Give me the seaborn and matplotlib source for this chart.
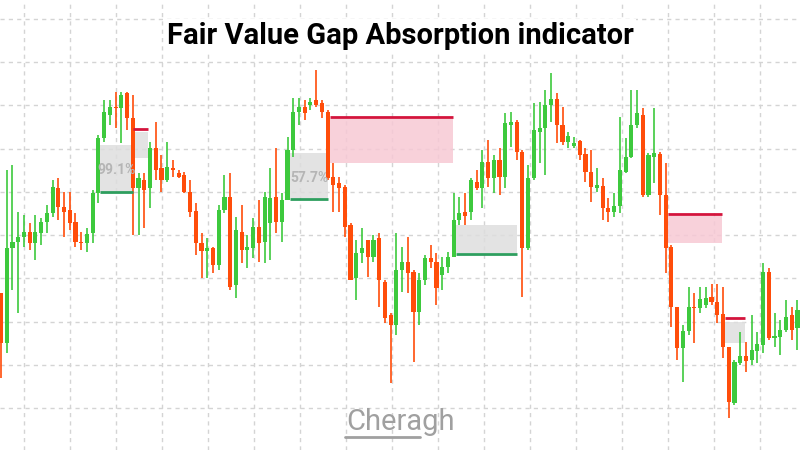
import numpy as np
import matplotlib
matplotlib.use("Agg")
import matplotlib.pyplot as plt
import seaborn as sns
from matplotlib.patches import Rectangle

# candle values on a screen-like price scale (smaller = higher)
opens = [293,343,248,242,237,232,243,233,222,213,188,207,210,222,242,243,233,193,138,115,
         107,108,93,118,188,180,188,148,168,180,168,173,175,192,211,243,251,248,265,210,
         197,285,232,250,248,227,242,223,197,222,200,150,112,107,105,100,103,112,177,183,
         187,225,278,253,240,257,238,282,315,325,270,262,272,312,280,258,262,275,267,257,
         220,212,212,182,188,162,178,160,177,125,122,152,248,178,132,128,105,99,125,142,
         146,141,154,172,188,186,208,212,206,172,157,125,115,195,157,154,195,247,307,348,
         331,307,308,305,297,302,314,347,403,363,356,360,351,345,272,338,337,330,315,328]
closes = [343,248,242,237,232,243,232,222,213,187,207,212,223,242,243,234,193,138,112,107,
          108,95,118,188,178,190,148,170,180,167,170,177,192,212,243,251,248,265,210,197,
          287,230,250,247,227,243,197,198,222,200,150,112,107,113,102,105,112,178,185,188,
          227,280,253,248,257,240,280,318,325,270,262,273,312,280,258,262,288,267,257,220,
          213,216,180,188,162,178,160,177,123,122,152,248,178,130,128,105,99,125,142,136,
          143,155,172,187,185,208,212,206,170,157,125,113,195,155,153,195,248,307,348,331,
          307,308,299,298,302,315,347,402,362,356,361,350,344,272,338,336,330,317,330,310]
highs = [293,170,165,212,215,223,215,218,205,180,178,192,192,213,232,228,190,135,100,100,
         92,92,92,95,173,173,142,122,155,142,160,170,172,180,203,233,238,247,205,175,
         173,217,205,235,218,200,192,168,148,193,137,98,98,100,98,70,100,110,163,177,
         185,223,240,228,240,235,233,280,313,233,247,237,270,273,255,245,253,257,252,193,
         197,193,178,170,150,140,155,148,113,112,120,150,165,103,102,90,73,93,107,132,
         137,140,148,150,168,178,198,193,117,138,90,90,108,153,108,152,163,245,307,325,
         287,293,287,287,284,284,287,347,360,332,342,315,332,263,268,313,320,300,307,300]
lows = [378,353,290,313,247,250,260,245,233,217,220,237,230,247,250,252,243,203,142,125,
        128,143,130,235,235,228,208,180,192,182,177,178,193,217,255,278,278,273,270,213,
        290,298,263,268,258,262,263,260,233,242,200,157,125,120,110,107,118,180,212,212,
        237,280,300,263,277,262,307,323,383,335,292,293,362,325,285,268,305,290,273,257,
        225,225,220,190,208,187,193,195,188,147,160,297,250,180,163,175,122,143,145,148,
        148,160,182,202,192,220,222,217,213,173,158,128,197,197,183,215,273,327,360,382,
        335,343,313,308,305,323,358,418,405,365,372,365,363,353,340,347,355,332,340,350]

# gap zones: (start index, end index, top, bottom, kind)
gap_start = [17.3, 23.0, 50.4, 57.4, 79.4, 116.4, 126.4]
gap_end   = [23.0, 25.7, 57.1, 78.9, 90.1, 125.8, 129.8]
gap_top   = [145, 132, 153, 119, 225, 216, 322]
gap_bot   = [192, 158, 198, 163, 253, 243, 343]
gap_line  = [192, 129, 199, 117, 254, 214, 318]
gap_kind  = ['bull', 'bear_abs', 'bull', 'bear', 'bull', 'bear', 'bear_abs']
gap_label = ['99.1%', '', '57.7%', '', '', '', '']

sns.set_style("white")
fig = plt.figure(figsize=(8, 4.5), dpi=100)
ax = fig.add_axes([0, 0, 1, 1])
px = lambda p: (p - 1) / 5.73
ax.set_xlim(px(0), px(800))
ax.set_ylim(450, 0)

# grid
for gx in np.arange(24, 800, 46):
    ax.axvline(px(gx), color='#d4d4d4', lw=1, ls=(0, (3, 3)), zorder=0)
for gy in np.arange(18.7, 450, 43.3):
    ax.axhline(gy, color='#d4d4d4', lw=1, ls=(0, (3, 3)), zorder=0)

GREEN = '#3dc93d'
RED = '#ff4d0a'
idx = np.arange(len(opens))
o = np.array(opens); c = np.array(closes)
up = c < o
cols = np.where(up, GREEN, RED)
ax.vlines(idx, highs, lows, colors=cols, lw=1.2, zorder=3)
bot = np.maximum(o, c)
height = np.maximum(np.abs(o - c), 1.5)
ax.bar(idx, -height, bottom=bot, width=0.72, color=cols, zorder=4, linewidth=0)

for s, e, t, b, ln, k, lab in zip(gap_start, gap_end, gap_top, gap_bot, gap_line, gap_kind, gap_label):
    if k == 'bear':
        fc, lc = '#f7c9d4', '#d4143c'
    elif k == 'bear_abs':
        fc, lc = '#dedede', '#d4143c'
    else:
        fc, lc = '#dedede', '#2e9e5e'
    ax.add_patch(Rectangle((s, t), e - s, b - t, facecolor=fc, edgecolor='none', alpha=0.85, zorder=2))
    ax.plot([s, e], [ln, ln], color=lc, lw=2, zorder=5, solid_capstyle='butt')
    if lab:
        ax.text((s + e) / 2, (t + b) / 2 + 2, lab, color='#b5b5b5', fontsize=10, fontweight='bold',
                ha='center', va='center', zorder=6, family='Roboto')

ax.set_xticks([]); ax.set_yticks([])
for sp in ax.spines.values():
    sp.set_visible(False)

fig.text(0.5, 1 - 36 / 450, 'Fair Value Gap Absorption indicator', ha='center', va='center',
         fontsize=21, fontweight='bold', family='Roboto', color='#000000',
         bbox=dict(facecolor='white', edgecolor='none', pad=2))
fig.text(0.5, 1 - 422 / 450, 'Cheragh', ha='center', va='center', fontsize=21,
         family='Roboto', color='#a0a0a0')
ax.plot([px(345), px(420)], [437, 437], color='#a0a0a0', lw=2, zorder=6)
fig.savefig('out.png', dpi=100)
